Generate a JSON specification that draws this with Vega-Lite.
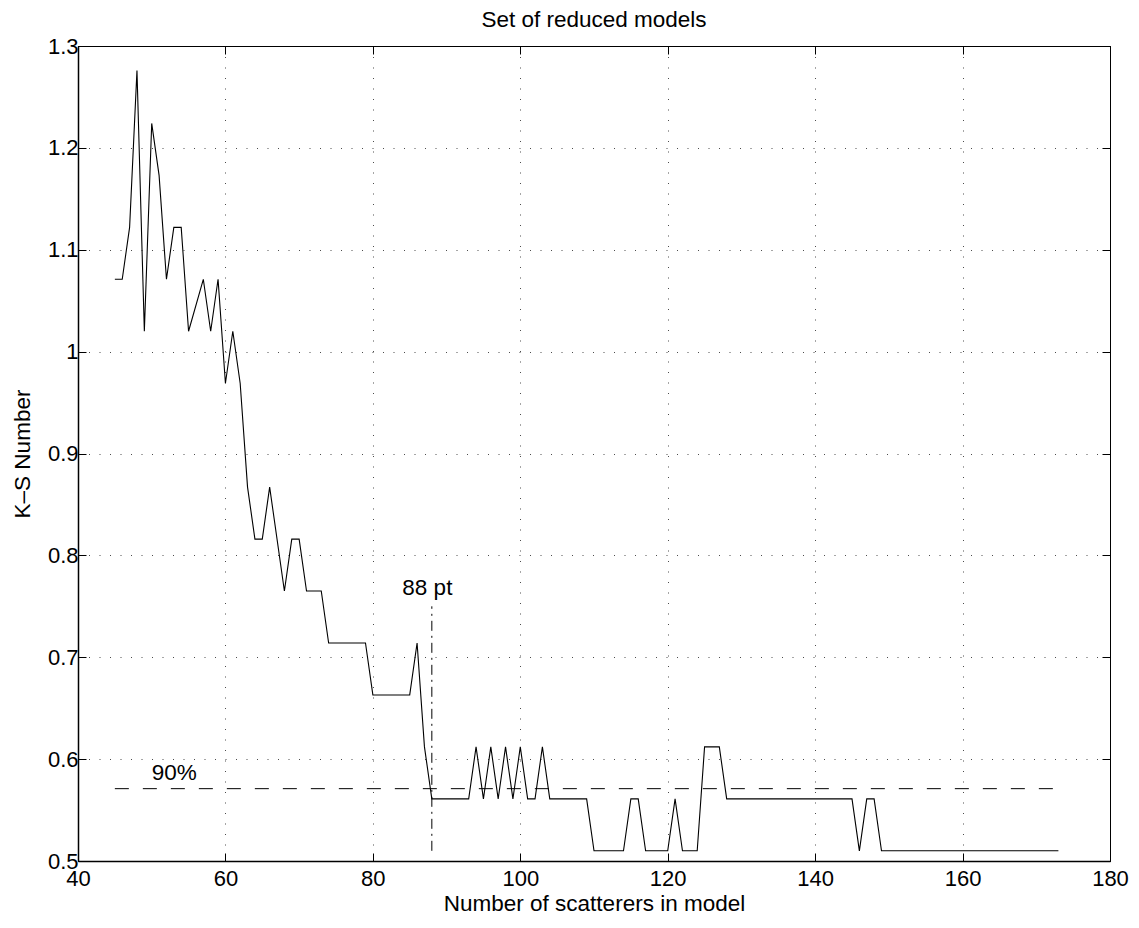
{
  "$schema": "https://vega.github.io/schema/vega-lite/v6.json",
  "width": 1032,
  "height": 815,
  "autosize": {"type": "none"},
  "padding": {"left": 78, "top": 46, "right": 29, "bottom": 67},
  "background": "white",
  "title": {"text": "Set of reduced models", "fontSize": 22.5, "font": "Liberation Sans", "fontWeight": "normal", "color": "black", "offset": 14, "baseline": "bottom", "anchor": "middle", "frame": "group", "dy": 33},
  "config": {"view": {"stroke": "black", "strokeWidth": 1}, "font": "Liberation Sans"},
  "datasets": {
    "ks": [
      {"n": 45, "ks": 1.071}, {"n": 46, "ks": 1.071}, {"n": 47, "ks": 1.122}, {"n": 48, "ks": 1.276},
      {"n": 49, "ks": 1.020}, {"n": 50, "ks": 1.224}, {"n": 51, "ks": 1.173}, {"n": 52, "ks": 1.071},
      {"n": 53, "ks": 1.122}, {"n": 54, "ks": 1.122}, {"n": 55, "ks": 1.020}, {"n": 57, "ks": 1.071},
      {"n": 58, "ks": 1.020}, {"n": 59, "ks": 1.071}, {"n": 60, "ks": 0.969}, {"n": 61, "ks": 1.020},
      {"n": 62, "ks": 0.969}, {"n": 63, "ks": 0.867}, {"n": 64, "ks": 0.816}, {"n": 65, "ks": 0.816},
      {"n": 66, "ks": 0.867}, {"n": 68, "ks": 0.765}, {"n": 69, "ks": 0.816}, {"n": 70, "ks": 0.816},
      {"n": 71, "ks": 0.765}, {"n": 72, "ks": 0.765}, {"n": 73, "ks": 0.765}, {"n": 74, "ks": 0.714},
      {"n": 75, "ks": 0.714}, {"n": 76, "ks": 0.714}, {"n": 77, "ks": 0.714}, {"n": 78, "ks": 0.714},
      {"n": 79, "ks": 0.714}, {"n": 80, "ks": 0.663}, {"n": 81, "ks": 0.663}, {"n": 82, "ks": 0.663},
      {"n": 83, "ks": 0.663}, {"n": 84, "ks": 0.663}, {"n": 85, "ks": 0.663}, {"n": 86, "ks": 0.714},
      {"n": 87, "ks": 0.612}, {"n": 88, "ks": 0.561}, {"n": 89, "ks": 0.561}, {"n": 90, "ks": 0.561},
      {"n": 91, "ks": 0.561}, {"n": 92, "ks": 0.561}, {"n": 93, "ks": 0.561}, {"n": 94, "ks": 0.612},
      {"n": 95, "ks": 0.561}, {"n": 96, "ks": 0.612}, {"n": 97, "ks": 0.561}, {"n": 98, "ks": 0.612},
      {"n": 99, "ks": 0.561}, {"n": 100, "ks": 0.612}, {"n": 101, "ks": 0.561}, {"n": 102, "ks": 0.561},
      {"n": 103, "ks": 0.612}, {"n": 104, "ks": 0.561}, {"n": 105, "ks": 0.561}, {"n": 106, "ks": 0.561},
      {"n": 107, "ks": 0.561}, {"n": 108, "ks": 0.561}, {"n": 109, "ks": 0.561}, {"n": 110, "ks": 0.510},
      {"n": 111, "ks": 0.510}, {"n": 112, "ks": 0.510}, {"n": 113, "ks": 0.510}, {"n": 114, "ks": 0.510},
      {"n": 115, "ks": 0.561}, {"n": 116, "ks": 0.561}, {"n": 117, "ks": 0.510}, {"n": 118, "ks": 0.510},
      {"n": 119, "ks": 0.510}, {"n": 120, "ks": 0.510}, {"n": 121, "ks": 0.561}, {"n": 122, "ks": 0.510},
      {"n": 123, "ks": 0.510}, {"n": 124, "ks": 0.510}, {"n": 125, "ks": 0.612}, {"n": 126, "ks": 0.612},
      {"n": 127, "ks": 0.612}, {"n": 128, "ks": 0.561}, {"n": 130, "ks": 0.561}, {"n": 135, "ks": 0.561},
      {"n": 140, "ks": 0.561}, {"n": 145, "ks": 0.561}, {"n": 146, "ks": 0.510}, {"n": 147, "ks": 0.561},
      {"n": 148, "ks": 0.561}, {"n": 149, "ks": 0.510}, {"n": 155, "ks": 0.510}, {"n": 160, "ks": 0.510},
      {"n": 165, "ks": 0.510}, {"n": 170, "ks": 0.510}, {"n": 173, "ks": 0.510}
    ],
    "ref90": [{"x": 45, "x2": 174, "y": 0.571}],
    "ref88": [{"x": 88, "y": 0.51, "y2": 0.75}],
    "notes": [
      {"x": 84, "y": 0.761, "label": "88 pt"},
      {"x": 50, "y": 0.58, "label": "90%"}
    ]
  },
  "resolve": {"axis": {"x": "independent", "y": "independent"}},
  "layer": [
    {
      "data": {"name": "ks"},
      "mark": {"type": "line", "color": "black", "strokeWidth": 1.1},
      "encoding": {
        "x": {"field": "n", "type": "quantitative",
          "scale": {"domain": [40, 180], "nice": false, "zero": false},
          "axis": {"orient": "bottom", "values": [40, 60, 80, 100, 120, 140, 160, 180], "format": "d",
            "title": "Number of scatterers in model", "titleFont": "Liberation Sans", "titleFontSize": 22.5, "titleFontWeight": "normal", "titleColor": "black", "titlePadding": 3,
            "labelFont": "Liberation Sans", "labelFontSize": 22, "labelColor": "black", "labelPadding": 15, "labelFlush": false,
            "tickSize": -8, "tickColor": "black", "tickWidth": 1, "domainColor": "black", "domainWidth": 1.5,
            "grid": true, "gridColor": "#000", "gridDash": [1, 9.5], "gridOpacity": 0.7, "gridWidth": 1}},
        "y": {"field": "ks", "type": "quantitative",
          "scale": {"domain": [0.5, 1.3], "nice": false, "zero": false},
          "axis": {"orient": "left", "values": [0.5, 0.6, 0.7, 0.8, 0.9, 1.0, 1.1, 1.2, 1.3], "format": "~g",
            "title": "K–S Number", "titleFont": "Liberation Sans", "titleFontSize": 22.5, "titleFontWeight": "normal", "titleColor": "black", "titlePadding": 13,
            "labelFont": "Liberation Sans", "labelFontSize": 22, "labelColor": "black", "labelPadding": 8, "labelFlush": false,
            "tickSize": -8, "tickColor": "black", "tickWidth": 1, "domainColor": "black", "domainWidth": 1.5,
            "grid": true, "gridColor": "#000", "gridDash": [1, 9.5], "gridOpacity": 0.7, "gridWidth": 1}}
      }
    },
    {
      "data": {"name": "ref90"},
      "mark": {"type": "rule", "color": "black", "strokeWidth": 1, "strokeDash": [14, 14]},
      "encoding": {
        "x": {"field": "x", "type": "quantitative",
          "axis": {"orient": "top", "values": [40, 60, 80, 100, 120, 140, 160, 180], "labels": false, "title": null,
            "tickSize": -8, "tickColor": "black", "domainColor": "black", "grid": false, "minExtent": 0, "maxExtent": 0}},
        "x2": {"field": "x2"},
        "y": {"field": "y", "type": "quantitative",
          "axis": {"orient": "right", "values": [0.5, 0.6, 0.7, 0.8, 0.9, 1.0, 1.1, 1.2, 1.3], "labels": false, "title": null,
            "tickSize": -8, "tickColor": "black", "domainColor": "black", "grid": false, "minExtent": 0, "maxExtent": 0}}
      }
    },
    {
      "data": {"name": "ref88"},
      "mark": {"type": "rule", "color": "black", "strokeWidth": 1, "strokeDash": [10, 5, 2, 5]},
      "encoding": {
        "x": {"field": "x", "type": "quantitative", "axis": null},
        "y": {"field": "y", "type": "quantitative", "axis": null},
        "y2": {"field": "y2"}
      }
    },
    {
      "data": {"name": "notes"},
      "mark": {"type": "text", "align": "left", "baseline": "alphabetic", "font": "Liberation Sans", "fontSize": 22.5, "color": "black"},
      "encoding": {
        "x": {"field": "x", "type": "quantitative", "axis": null},
        "y": {"field": "y", "type": "quantitative", "axis": null},
        "text": {"field": "label"}
      }
    }
  ]
}
